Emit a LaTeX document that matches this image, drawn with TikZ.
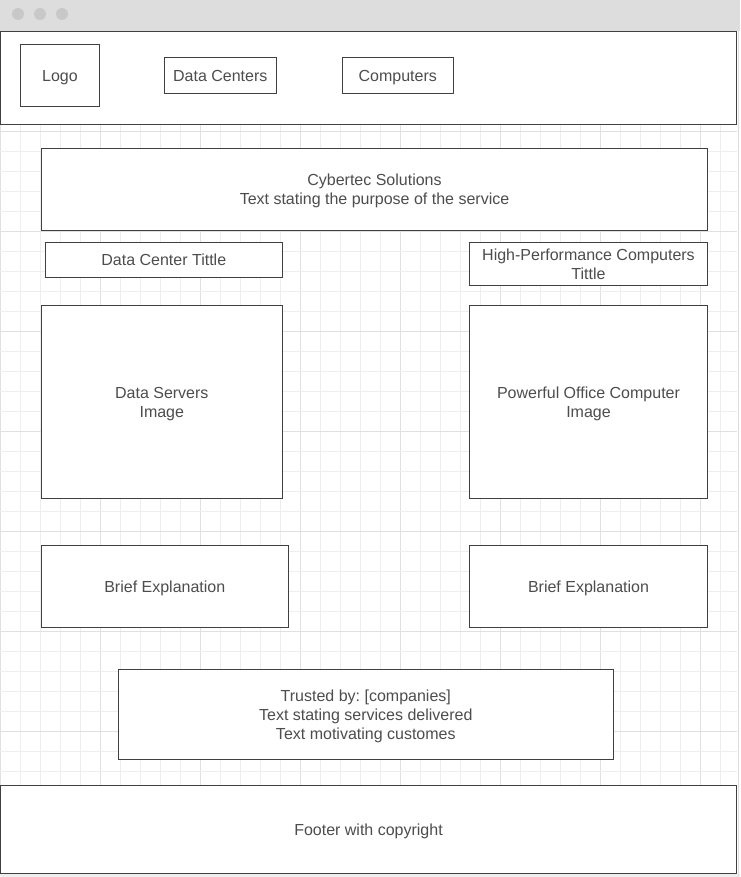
\documentclass[tikz,border=0pt]{standalone}
\usepackage{fontspec}
\setmainfont{Liberation Sans}
\frenchspacing
\definecolor{linec}{HTML}{404040}
\definecolor{textc}{HTML}{4D4D4D}
\definecolor{gridminor}{HTML}{EEEEEE}
\definecolor{gridmajor}{HTML}{E0E0E0}
\definecolor{barc}{HTML}{DDDDDD}
\definecolor{dotc}{HTML}{C8C8C8}
\newcommand{\mystrut}{\rule[-2.5pt]{0pt}{14.25pt}}
\newcommand{\mybox}[6]{%
  \node[wbox, minimum width={(#4-#2)*0.75pt}, minimum height={(#5-#3)*0.75pt}]
    (#1) at ({(#2+#4)/2},{(#3+#5)/2}) {#6};}
\begin{document}
\begin{tikzpicture}[x=0.75pt,y=-0.75pt,
  wbox/.style={draw=linec, fill=white, line width=0.9pt, inner sep=0pt, outer sep=0pt,
    align=center, text=textc, font=\fontsize{12}{14.25}\selectfont},
  minorline/.style={draw=gridminor, line width=0.75pt},
  majorline/.style={draw=gridmajor, line width=0.75pt}]
\useasboundingbox (0,0) rectangle (740,877);
\fill[white] (0,0) rectangle (740,877);
% grid
\foreach \k in {0,...,36}{
  \pgfmathtruncatemacro{\m}{mod(\k,5)}
  \ifnum\m=0
    \draw[majorline] ({0.7+20*\k},124) -- ({0.7+20*\k},873);
  \else
    \draw[minorline] ({0.7+20*\k},124) -- ({0.7+20*\k},873);
  \fi
}
\foreach \k in {0,...,37}{
  \pgfmathtruncatemacro{\m}{mod(\k,5)}
  \ifnum\m=0
    \draw[majorline] (0,{131.7+20*\k}) -- (737,{131.7+20*\k});
  \else
    \draw[minorline] (0,{131.7+20*\k}) -- (737,{131.7+20*\k});
  \fi
}
% window chrome
\fill[barc] (0,0) rectangle (740,31);
\fill[dotc] (18,14) circle (6);
\fill[dotc] (40,14) circle (6);
\fill[dotc] (62,14) circle (6);
\fill[gridminor] (0,874) rectangle (740,877);
\draw[barc, line width=1.1pt] (738.5,31) -- (738.5,877);
% boxes
\mybox{header}{0.5}{31.3}{736.5}{124.3}{}
\mybox{logo}{20.3}{44.3}{99.7}{106.3}{\mystrut Logo}
\mybox{dc}{164.3}{57.3}{276.3}{93.7}{\mystrut Data Centers}
\mybox{comp}{342.3}{57.3}{453.3}{93.7}{\mystrut Computers}
\mybox{hero}{41.3}{148.3}{707.7}{230.3}{\mystrut Cybertec Solutions\\\mystrut Text stating the purpose of the service}
\mybox{dctitle}{45.3}{242.3}{282.3}{277.3}{\mystrut Data Center Tittle}
\mybox{hptitle}{469.3}{242.3}{707.7}{285.3}{\mystrut High-Performance Computers\\\mystrut Tittle}
\mybox{dcimg}{41.3}{305.3}{282.3}{498.7}{\mystrut Data Servers\\\mystrut Image}
\mybox{hpimg}{469.3}{305.3}{707.7}{498.7}{\mystrut Powerful Office Computer\\\mystrut Image}
\mybox{dcbrief}{41.3}{545.3}{288.3}{627.3}{\mystrut Brief Explanation}
\mybox{hpbrief}{469.3}{545.3}{707.7}{627.3}{\mystrut Brief Explanation}
\mybox{trust}{118.3}{669.3}{613.3}{759.3}{\mystrut Trusted by: [companies]\\\mystrut Text stating services delivered\\\mystrut Text motivating customes}
\mybox{footer}{0.5}{785.3}{736.5}{873.3}{\mystrut Footer with copyright}
\end{tikzpicture}
\end{document}
